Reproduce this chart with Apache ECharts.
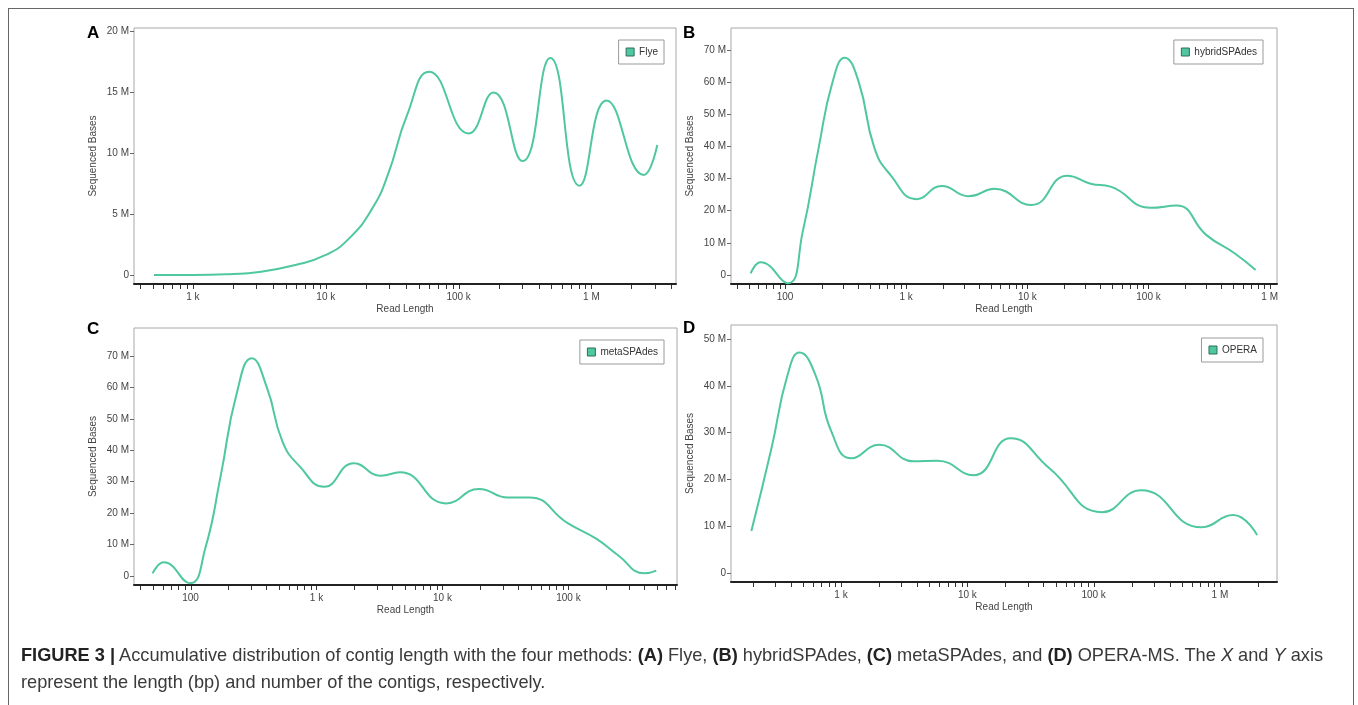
<!DOCTYPE html>
<html>
<head>
<meta charset="utf-8">
<script src="https://cdn.jsdelivr.net/npm/echarts@6/dist/echarts.min.js"></script>
<style>
  html, body { margin: 0; padding: 0; background: #fff; }
  #chart { position: absolute; left: 0; top: 0; width: 1358px; height: 705px; }
  #frame { position: absolute; left: 8px; top: 8px; width: 1344px; height: 720px;
    border: 1px solid #666; border-bottom: none; }
  #caption { position: absolute; left: 21px; top: 642px; width: 1330px; white-space: nowrap;
    font-family: 'Liberation Sans', Arial, sans-serif; font-size: 18.2px; line-height: 27px; color: #3a3a3a; }
  #caption b { color: #222; }
</style>
</head>
<body>
<div id="chart"></div>
<div id="frame"></div>
<div id="caption"><b>FIGURE 3 |</b> Accumulative distribution of contig length with the four methods: <b>(A)</b> Flye, <b>(B)</b> hybridSPAdes, <b>(C)</b> metaSPAdes, and <b>(D)</b> OPERA-MS. The <i>X</i> and <i>Y</i> axis<br>represent the length (bp) and number of the contigs, respectively.</div>
<script>
// read length (bp) and sequenced bases (M) for each assembler
var flyeLen = [509, 1000, 2000, 3030, 5900, 10000, 15000, 22400, 29300, 40900, 60000, 119000, 183000, 303000, 490000, 813000, 1300000, 2480000, 3130000];
var flyeVal = [0, 0, 0.08, 0.22, 0.82, 1.64, 3.0, 5.46, 8.2, 13.1, 16.67, 11.6, 14.97, 9.34, 17.8, 7.32, 14.3, 8.2, 10.66];

var hybridLen = [52, 63, 105, 140, 189, 247, 311, 405, 548, 743, 1220, 1970, 3270, 5360, 10800, 21400, 33300, 48600, 104000, 170000, 301000, 513000, 766000];
var hybridVal = [0.5, 3.95, -2.6, 13.5, 39.4, 60.1, 67.6, 60.1, 39.4, 31.1, 23.6, 27.7, 24.5, 26.8, 21.8, 30.9, 28.4, 27.5, 20.9, 21.6, 12.4, 6.75, 1.55];

var metaLen = [50, 61.5, 99, 131, 174, 231, 306, 406, 538, 739, 1150, 1980, 3240, 4600, 10700, 19500, 33000, 48800, 98600, 167000, 246000, 403000, 498000];
var metaVal = [0.85, 4.35, -2.3, 8.8, 32.1, 57.6, 69.3, 59.7, 42.7, 34.8, 28.4, 35.9, 31.9, 33.0, 23.1, 27.7, 25.0, 25.0, 16.8, 11.8, 6.7, 0.85, 1.7];

var operaLen = [195, 281, 377, 469, 628, 839, 1210, 2010, 3740, 5800, 11200, 22000, 44600, 117000, 238000, 711000, 1270000, 1970000];
var operaVal = [8.97, 26.6, 42.3, 47.1, 42.3, 30.2, 24.5, 27.4, 23.9, 24.0, 20.9, 28.8, 22.4, 13.0, 17.7, 9.76, 12.4, 8.1];

var panelNames = ['Flye', 'hybridSPAdes', 'metaSPAdes', 'OPERA'];
var panelLetters = ['A', 'B', 'C', 'D'];

var lineColor = '#4fc7a0';
var font = "'Liberation Sans', Arial, sans-serif";

// layout of the four plot boxes
var grids = [
  { left: 134, top: 28, width: 542, height: 256 },
  { left: 731, top: 28, width: 546, height: 256 },
  { left: 134, top: 328, width: 543, height: 257 },
  { left: 731, top: 325, width: 546, height: 257 }
];
var xRange = [[360, 4330000], [35.8, 1150000], [35.6, 727000], [134.5, 2830000]];
var yRange = [[-0.74e6, 20.25e6], [-2.8e6, 76.85e6], [-2.86e6, 78.9e6], [-1.92e6, 53.0e6]];
var yStep = [5e6, 10e6, 10e6, 10e6];
var legendPos = [
  { right: 694, top: 40 },
  { right: 95, top: 40 },
  { right: 694, top: 340 },
  { right: 95, top: 338 }
];
var letterPos = [[87, 25], [683, 25], [87, 321], [683, 320]];

function pairs(xs, ys) {
  return xs.map(function (x, i) { return [x, ys[i] * 1e6]; });
}

// tick marks at 1..9 x 10^k along a log axis
function logTicks(range) {
  var out = [];
  for (var k = Math.floor(Math.log10(range[0])); k <= Math.ceil(Math.log10(range[1])); k++) {
    for (var m = 1; m <= 9; m++) {
      var v = m * Math.pow(10, k);
      if (v >= range[0] && v <= range[1]) out.push(v);
    }
  }
  return out;
}

function xLabel(v) {
  var l = Math.log10(v);
  if (Math.abs(l - Math.round(l)) > 1e-6) return '';
  if (v >= 1e6) return Math.round(v / 1e6) + ' M';
  if (v >= 1e3) return Math.round(v / 1e3) + ' k';
  return String(Math.round(v));
}

var chart = echarts.init(document.getElementById('chart'));
var allData = [pairs(flyeLen, flyeVal), pairs(hybridLen, hybridVal), pairs(metaLen, metaVal), pairs(operaLen, operaVal)];

var option = {
  backgroundColor: '#fff',
  animation: false,
  textStyle: { fontFamily: font },
  grid: [],
  xAxis: [],
  yAxis: [],
  legend: [],
  series: [],
  graphic: []
};

for (var i = 0; i < 4; i++) {
  (function (i) {
    option.grid.push({
      left: grids[i].left, top: grids[i].top, width: grids[i].width, height: grids[i].height,
      show: true, borderColor: '#a8a8a8', borderWidth: 1, backgroundColor: 'transparent'
    });
    option.xAxis.push({
      type: 'log', gridIndex: i, logBase: 10,
      min: xRange[i][0], max: xRange[i][1],
      name: 'Read Length', nameLocation: 'middle', nameGap: 20,
      nameTextStyle: { fontSize: 10, color: '#444', fontFamily: font },
      axisLine: { show: true, onZero: false, lineStyle: { color: '#222', width: 2 } },
      axisTick: { show: false },
      splitLine: { show: false },
      minorTick: { show: false },
      axisLabel: { fontSize: 10, color: '#444', margin: 8, formatter: xLabel,
        showMinLabel: false, showMaxLabel: false }
    });
    option.yAxis.push({
      type: 'value', gridIndex: i,
      min: yRange[i][0], max: yRange[i][1],
      minInterval: yStep[i], maxInterval: yStep[i], splitNumber: 6,
      name: 'Sequenced Bases', nameLocation: 'middle', nameRotate: 90, nameGap: 36,
      nameTextStyle: { fontSize: 10, color: '#444', fontFamily: font },
      axisLine: { show: false, onZero: false },
      axisTick: { show: true, length: 4, lineStyle: { color: '#666' } },
      splitLine: { show: false },
      axisLabel: {
        fontSize: 10, color: '#444', margin: 5,
        showMinLabel: false, showMaxLabel: false,
        formatter: function (v) {
          if (Math.abs(v / yStep[i] - Math.round(v / yStep[i])) > 1e-6) return '';
          return v === 0 ? '0' : Math.round(v / 1e6) + ' M';
        }
      }
    });
    option.legend.push({
      data: [panelNames[i]],
      right: legendPos[i].right, top: legendPos[i].top,
      orient: 'vertical',
      icon: 'rect', itemWidth: 8, itemHeight: 8, itemGap: 5,
      padding: [7, 6, 7, 7],
      borderColor: '#9a9a9a', borderWidth: 1, backgroundColor: '#fff',
      textStyle: { fontSize: 10, color: '#333', fontFamily: font },
      itemStyle: { borderColor: '#2f6f5a', borderWidth: 1 }
    });
    option.series.push({
      name: panelNames[i], type: 'line', xAxisIndex: i, yAxisIndex: i,
      data: allData[i], smooth: 0.5, showSymbol: false, symbol: 'none',
      lineStyle: { color: lineColor, width: 2 },
      itemStyle: { color: lineColor }
    });
    option.series.push({
      type: 'custom', xAxisIndex: i, yAxisIndex: i, silent: true, clip: false,
      data: logTicks(xRange[i]).map(function (t) { return [t, yRange[i][0]]; }),
      renderItem: function (params, api) {
        var p = api.coord([api.value(0), api.value(1)]);
        return {
          type: 'line',
          shape: { x1: Math.round(p[0]) + 0.5, y1: p[1] + 1, x2: Math.round(p[0]) + 0.5, y2: p[1] + 5 },
          style: { stroke: '#333', lineWidth: 1 }
        };
      }
    });
    option.graphic.push({
      type: 'text', left: letterPos[i][0], top: letterPos[i][1],
      style: { text: panelLetters[i], fontSize: 17, fontWeight: 'bold', fill: '#000', fontFamily: font }
    });
  })(i);
}

chart.setOption(option);
</script>
</body>
</html>
